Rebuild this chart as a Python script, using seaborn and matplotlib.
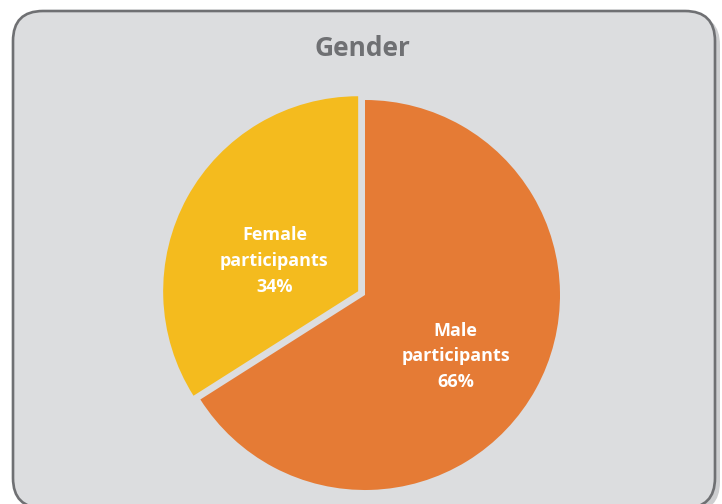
import matplotlib
matplotlib.use("Agg")
import matplotlib.pyplot as plt
import seaborn as sns
from matplotlib.patches import FancyBboxPatch

categories = ["Male\nparticipants", "Female\nparticipants"]
values = [66, 34]
colors = ["#E57B35", "#F4BB1E"]
explode_vals = [0.0, 0.04]
title = "Gender"

sns.set_style("white")
plt.rcParams['font.family'] = ['Open Sans', 'DejaVu Sans']

W, H = 722, 504
fig = plt.figure(figsize=(W / 100, H / 100), dpi=100)
fig.patch.set_facecolor("white")

bx0, by0, bx1, by1 = 13, -4, 715, 493
shadow = FancyBboxPatch((bx0 + 5, by0 - 4), bx1 - bx0, by1 - by0,
                        boxstyle="round,pad=0,rounding_size=30",
                        transform=None, facecolor="#b9babc", edgecolor="none",
                        alpha=0.7, zorder=-2)
fig.patches.append(shadow)
panel = FancyBboxPatch((bx0, by0), bx1 - bx0, by1 - by0,
                       boxstyle="round,pad=0,rounding_size=30",
                       transform=None, facecolor="#DCDDDF", edgecolor="#6F7073",
                       linewidth=1.9, zorder=-1)
fig.patches.append(panel)

fig.text(362 / W, 1 - 49 / H, title, ha="center", va="center",
         fontsize=19, fontweight="bold", color="#6F7073")

# pie axes: centre (365, 295 from top), radius 195 px
cx, cy, R = 365, H - 295, 195
half = 205
ax = fig.add_axes([(cx - half) / W, (cy - half) / H, 2 * half / W, 2 * half / H])
ax.set_zorder(5)
ax.patch.set_visible(False)
ax.axis("off")

labels = [f"{c}\n{v}%" for c, v in zip(categories, values)]
wedges, texts = ax.pie(values, labels=labels, colors=sns.color_palette(colors),
                       explode=explode_vals, startangle=90, counterclock=False,
                       radius=1.0, labeldistance=0.53,
                       wedgeprops=dict(linewidth=0),
                       textprops=dict(color="white", fontsize=13, fontweight="bold",
                                      ha="center", va="center", multialignment="center",
                                      linespacing=1.55))
# fine label nudges (data units)
nudges = [(0.0, -0.06), (0.035, -0.10)]
for t, (dx, dy) in zip(texts, nudges):
    x, y = t.get_position()
    t.set_position((x + dx, y + dy))

ax.set_aspect("equal")
ax.set_xlim(-half / R, half / R)
ax.set_ylim(-half / R, half / R)

fig.savefig("out.png", dpi=100)
